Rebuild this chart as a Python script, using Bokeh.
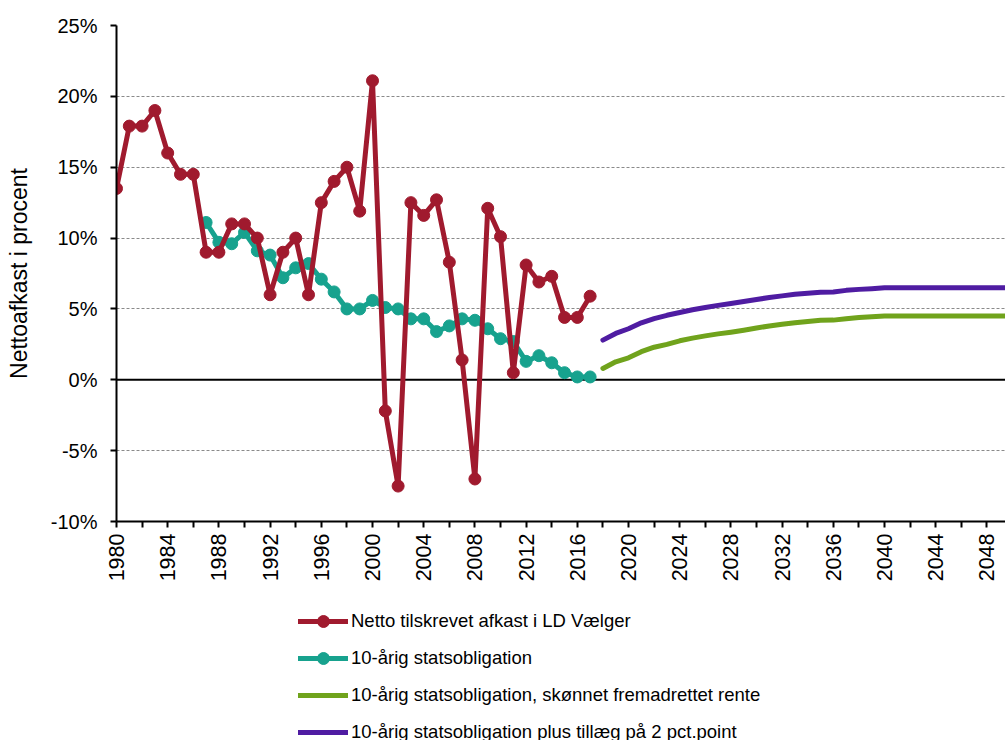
import math
from bokeh.plotting import figure
from bokeh.layouts import column
from bokeh.models import (Range1d, Legend, LegendItem, Span, FixedTicker,
                          PrintfTickFormatter, ColumnDataSource)
from bokeh.embed import file_html
from bokeh.resources import INLINE

# ---------------- data ----------------
years_hist = list(range(1980, 2018))
netto_afkast = [13.5, 17.9, 17.9, 19.0, 16.0, 14.5, 14.5, 9.0, 9.0, 11.0,
                11.0, 10.0, 6.0, 9.0, 10.0, 6.0, 12.5, 14.0, 15.0, 11.9,
                21.1, -2.2, -7.5, 12.5, 11.6, 12.7, 8.3, 1.4, -7.0, 12.1,
                10.1, 0.5, 8.1, 6.9, 7.3, 4.4, 4.4, 5.9]

years_bond = list(range(1987, 2018))
statsobligation = [11.1, 9.7, 9.6, 10.4, 9.1, 8.8, 7.2, 7.9, 8.2, 7.1,
                   6.2, 5.0, 5.0, 5.6, 5.1, 5.0, 4.3, 4.3, 3.4, 3.8,
                   4.3, 4.2, 3.6, 2.9, 2.7, 1.3, 1.7, 1.2, 0.5, 0.2, 0.2]

years_fc = list(range(2018, 2051))
skoennet_rente = [0.8, 1.27, 1.55, 1.98, 2.3, 2.5, 2.75, 2.94, 3.1, 3.24,
                  3.36, 3.5, 3.65, 3.8, 3.92, 4.03, 4.12, 4.2, 4.21, 4.31,
                  4.39, 4.44, 4.5, 4.5, 4.5, 4.5, 4.5, 4.5, 4.5, 4.5,
                  4.5, 4.5, 4.5]
rente_plus_2 = [2.8, 3.27, 3.6, 4.02, 4.32, 4.55, 4.75, 4.94, 5.1, 5.25,
                5.38, 5.53, 5.67, 5.8, 5.92, 6.03, 6.11, 6.18, 6.2, 6.31,
                6.38, 6.43, 6.5, 6.5, 6.5, 6.5, 6.5, 6.5, 6.5, 6.5,
                6.5, 6.5, 6.5]

y_ticks = [-10, -5, 0, 5, 10, 15, 20, 25]
x_major = list(range(1980, 2050, 4))
x_minor = list(range(1982, 2050, 4))

labels = ["Netto tilskrevet afkast i LD Vælger",
          "10-årig statsobligation",
          "10-årig statsobligation, skønnet fremadrettet rente",
          "10-årig statsobligation plus tillæg på 2 pct.point"]

RED = "#A01A2E"
TEAL = "#17A28E"
GREEN = "#70A31C"
PURPLE = "#4F1CA2"
FONT = "Liberation Sans"

# ---------------- main figure ----------------
p = figure(width=1005, height=600, output_backend="svg", toolbar_location=None,
           x_range=Range1d(1980, 2049.45), y_range=Range1d(-10, 25),
           min_border_left=116, min_border_right=0, min_border_top=25,
           min_border_bottom=79)
p.outline_line_color = None
p.background_fill_color = "white"
p.border_fill_color = "white"

p.xgrid.grid_line_color = None
p.ygrid.ticker = FixedTicker(ticks=y_ticks)
p.ygrid.grid_line_color = "#8a8a8a"
p.ygrid.grid_line_dash = "3 2"
p.ygrid.grid_line_width = 1

zero = Span(location=0, dimension="width", line_color="black", line_width=2,
            level="underlay")
p.add_layout(zero)

xa = p.xaxis[0]
xa.ticker = FixedTicker(ticks=x_major, minor_ticks=x_minor)
xa.axis_line_color = "black"
xa.axis_line_width = 2
xa.major_tick_line_color = "black"
xa.major_tick_line_width = 2
xa.major_tick_out = 6
xa.major_tick_in = 0
xa.minor_tick_line_color = "black"
xa.minor_tick_line_width = 2
xa.minor_tick_out = 6
xa.minor_tick_in = 0
xa.major_label_orientation = math.pi / 2
xa.major_label_standoff = 6
xa.major_label_text_font = FONT
xa.major_label_text_font_size = "21.5px"
xa.major_label_text_color = "black"

ya = p.yaxis[0]
ya.ticker = FixedTicker(ticks=y_ticks)
ya.formatter = PrintfTickFormatter(format="%d%%")
ya.axis_line_color = "black"
ya.axis_line_width = 2
ya.major_tick_line_color = "black"
ya.major_tick_line_width = 2
ya.major_tick_out = 6
ya.major_tick_in = 0
ya.minor_tick_line_color = None
ya.major_label_standoff = 13
ya.major_label_text_font = FONT
ya.major_label_text_font_size = "20px"
ya.major_label_text_color = "black"
ya.axis_label = "Nettoafkast i procent"
ya.axis_label_text_font = FONT
ya.axis_label_text_font_style = "normal"
ya.axis_label_text_font_size = "23px"
ya.axis_label_text_color = "black"
ya.axis_label_standoff = 16

src_red = ColumnDataSource(dict(x=years_hist, y=netto_afkast))
src_teal = ColumnDataSource(dict(x=years_bond, y=statsobligation))
src_green = ColumnDataSource(dict(x=years_fc, y=skoennet_rente))
src_purple = ColumnDataSource(dict(x=years_fc, y=rente_plus_2))

line_kw = dict(line_width=5, line_join="round", line_cap="round")
p.line("x", "y", source=src_green, line_color=GREEN, **line_kw)
p.line("x", "y", source=src_purple, line_color=PURPLE, **line_kw)
p.line("x", "y", source=src_teal, line_color=TEAL, **line_kw)
p.scatter("x", "y", source=src_teal, marker="circle", size=12,
          fill_color=TEAL, line_color=TEAL)
p.line("x", "y", source=src_red, line_color=RED, **line_kw)
p.scatter("x", "y", source=src_red, marker="circle", size=12,
          fill_color=RED, line_color=RED)

# ---------------- legend strip ----------------
# The legend lives in its own strip below the chart; its proxy renderers use
# the same sources but the strip's ranges keep them out of view.
q = figure(width=1005, height=140, output_backend="svg", toolbar_location=None,
           x_range=Range1d(0, 1), y_range=Range1d(0, 1),
           x_axis_type=None, y_axis_type=None,
           min_border_left=0, min_border_right=0, min_border_top=0,
           min_border_bottom=0)
q.outline_line_color = None
q.xgrid.grid_line_color = None
q.ygrid.grid_line_color = None

l_red = q.line("x", "y", source=src_red, line_color=RED, **line_kw)
m_red = q.scatter("x", "y", source=src_red, marker="circle", size=12,
                  fill_color=RED, line_color=RED)
l_teal = q.line("x", "y", source=src_teal, line_color=TEAL, **line_kw)
m_teal = q.scatter("x", "y", source=src_teal, marker="circle", size=12,
                   fill_color=TEAL, line_color=TEAL)
l_green = q.line("x", "y", source=src_green, line_color=GREEN, **line_kw)
l_purple = q.line("x", "y", source=src_purple, line_color=PURPLE, **line_kw)

legend = Legend(items=[
    LegendItem(label=labels[0], renderers=[l_red, m_red]),
    LegendItem(label=labels[1], renderers=[l_teal, m_teal]),
    LegendItem(label=labels[2], renderers=[l_green]),
    LegendItem(label=labels[3], renderers=[l_purple]),
], location=(182, -7))
legend.glyph_width = 50
legend.glyph_height = 30
legend.label_height = 30
legend.spacing = 7
legend.padding = 0
legend.margin = 0
legend.label_standoff = 3
legend.border_line_color = None
legend.background_fill_alpha = 0
legend.label_text_font = FONT
legend.label_text_font_size = "18.5px"
legend.label_text_color = "black"
q.add_layout(legend)

layout = column(p, q, spacing=0)
open("out.html", "w").write(file_html(layout, INLINE))
